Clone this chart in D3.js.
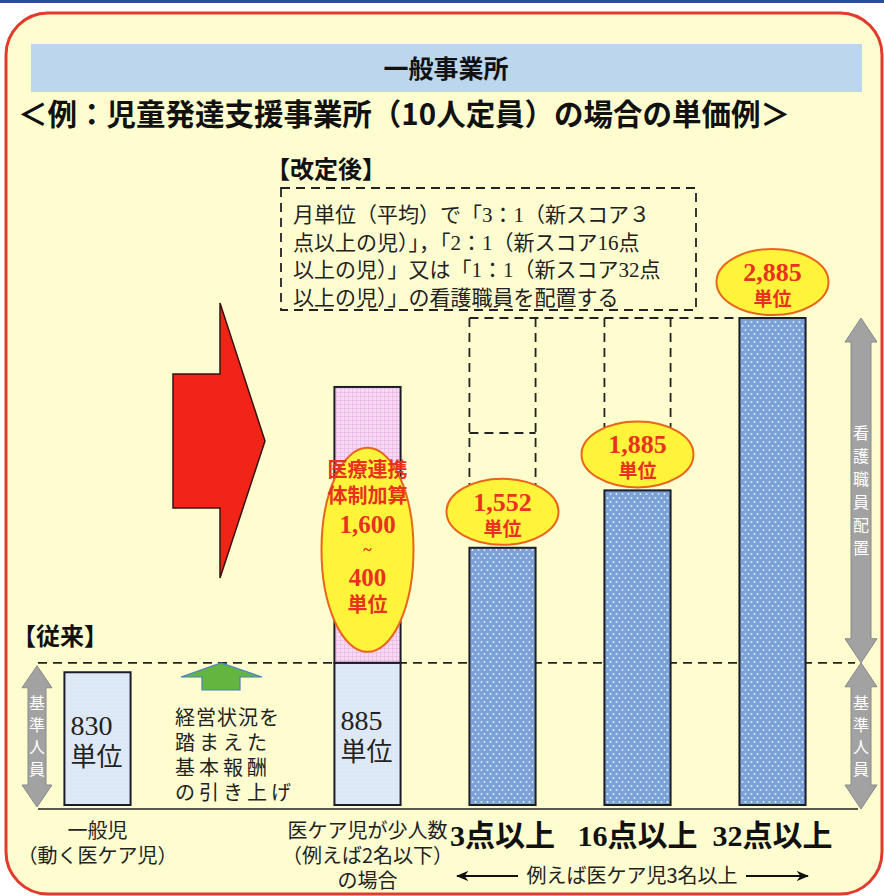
<!DOCTYPE html>
<html lang="ja">
<head>
<meta charset="utf-8">
<script src="https://cdn.jsdelivr.net/npm/d3@7"></script>
<style>
  html, body { margin: 0; padding: 0; background: #ffffff; }
  svg { display: block; font-family: "Noto Sans CJK JP", "Noto Sans", sans-serif; }
</style>
</head>
<body>
<svg id="chart" width="884" height="896"></svg>
<script>
// ---- data ----
const categories = ["一般児", "gap", "少人数", "3点以上", "16点以上", "32点以上"];
const baseUnits = [830, null, 885, 1552, 1885, 2885];
const additionUnits = [null, null, 1600, null, null, null];   // 医療連携体制加算 (upper bound)
const additionMin = 400;
const axisFloor = 60;
const guideLevel = 2218;                                      // inner guide on 3点以上 column
const tickLabels = ["3点以上", "16点以上", "32点以上"];
const bottomLabels = {
  "一般児": ["一般児", "（動く医ケア児）"],
  "少人数": ["医ケア児が少人数", "（例えば2名以下）", "の場合"]
};
const boxLines = [
  "月単位（平均）で「3：1（新スコア３",
  "点以上の児）」，「2：1（新スコア16点",
  "以上の児）」又は「1：1（新スコア32点",
  "以上の児）」の看護職員を配置する"
];
const raiseLines = ["経営状況を", "踏まえた", "基本報酬", "の引き上げ"];

const fmt = d3.format(",");
const svg = d3.select("#chart");
const serif = "'Liberation Serif', 'Noto Sans CJK JP', serif";

// multi-line text block: one <text>, one <tspan> per line
function block(parent, xPos, yFirst, lines, attrs) {
  const t = parent.append("text").attr("x", xPos).attr("y", yFirst);
  Object.entries(attrs || {}).forEach(([k, v]) => t.attr(k, v));
  lines.forEach((l, k) => {
    const s = t.append("tspan").attr("x", xPos).text(l.t);
    s.attr("dy", k === 0 ? 0 : l.dy);
    if (l.size) s.attr("font-size", l.size);
    if (l.family) s.attr("font-family", l.family);
    if (l.ls !== undefined) s.attr("letter-spacing", l.ls);
  });
  return t;
}

// ---- patterns ----
const defs = svg.append("defs");
const dots = defs.append("pattern").attr("id", "dots")
  .attr("patternUnits", "userSpaceOnUse").attr("width", 6).attr("height", 8);
dots.append("rect").attr("width", 6).attr("height", 8).attr("fill", "#7aa2d8");
dots.append("circle").attr("cx", 1.5).attr("cy", 2).attr("r", 0.9).attr("fill", "#e6efff");
dots.append("circle").attr("cx", 4.5).attr("cy", 6).attr("r", 0.9).attr("fill", "#e6efff");
const grid = defs.append("pattern").attr("id", "pinkgrid")
  .attr("patternUnits", "userSpaceOnUse").attr("width", 4).attr("height", 4);
grid.append("rect").attr("width", 4).attr("height", 4).attr("fill", "#f7d9f1");
grid.append("path").attr("d", "M0,0.5H4M0.5,0V4").attr("stroke", "#e8b8e6").attr("stroke-width", 0.7);
const lblue = defs.append("pattern").attr("id", "lightblue")
  .attr("patternUnits", "userSpaceOnUse").attr("width", 4).attr("height", 4);
lblue.append("rect").attr("width", 4).attr("height", 4).attr("fill", "#dde8f6");
lblue.append("circle").attr("cx", 2).attr("cy", 2).attr("r", 0.6).attr("fill", "#eef4fb");

// ---- frame ----
svg.append("rect").attr("x", 0).attr("y", 0).attr("width", 884).attr("height", 3).attr("fill", "#2c4d9c");
svg.append("rect").attr("x", 6).attr("y", 13).attr("width", 876).attr("height", 881)
  .attr("rx", 42).attr("fill", "#fdfdd0").attr("stroke", "#e23a2c").attr("stroke-width", 3);

svg.append("rect").attr("x", 31).attr("y", 44).attr("width", 831).attr("height", 48).attr("fill", "#bcd6ee");
svg.append("text").attr("x", 446).attr("y", 78).attr("text-anchor", "middle")
  .attr("font-size", 25).attr("font-weight", 700).attr("fill", "#111").text("一般事業所");
svg.append("text").attr("x", 18).attr("y", 125)
  .attr("font-size", 30).attr("font-weight", 700).attr("fill", "#111")
  .attr("textLength", 772).attr("lengthAdjust", "spacingAndGlyphs")
  .text("＜例：児童発達支援事業所（10人定員）の場合の単価例＞");

// ---- scales ----
const x = d3.scalePoint().domain(categories).range([30, 840]).padding(0.5);
const barW = x.step() * 0.49;
const y = d3.scaleLinear().domain([axisFloor, 2885]).range([805, 318]);
const baselineY = 809;

const bars = categories.map((c, i) => ({ c, v: baseUnits[i], add: additionUnits[i], i }))
  .filter(d => d.v !== null);

// ---- reference dashed line at the former base level ----
svg.append("line").attr("x1", 38).attr("x2", 855)
  .attr("y1", y(baseUnits[2])).attr("y2", y(baseUnits[2]))
  .attr("stroke", "#222").attr("stroke-width", 1.8).attr("stroke-dasharray", "9,6");

// ---- dashed guides above scored columns ----
const topY = y(baseUnits[5]);
const g = svg.append("g").attr("stroke", "#222").attr("stroke-width", 1.8)
  .attr("stroke-dasharray", "9,6").attr("fill", "none");
g.append("line").attr("x1", x("3点以上") - barW / 2).attr("x2", x("32点以上") - barW / 2)
  .attr("y1", topY).attr("y2", topY);
["3点以上", "16点以上"].forEach(c => {
  const i = categories.indexOf(c);
  [-1, 1].forEach(s => {
    g.append("line").attr("x1", x(c) + s * barW / 2).attr("x2", x(c) + s * barW / 2)
      .attr("y1", topY).attr("y2", y(baseUnits[i]) - 20);
  });
});
g.append("line").attr("x1", x("3点以上") - barW / 2).attr("x2", x("3点以上") + barW / 2)
  .attr("y1", y(guideLevel)).attr("y2", y(guideLevel));

// ---- bars ----
const barG = svg.append("g");
bars.forEach(d => {
  const scored = d.i >= 3;
  barG.append("rect")
    .attr("x", x(d.c) - barW / 2).attr("y", y(d.v))
    .attr("width", barW).attr("height", y(axisFloor) - y(d.v))
    .attr("fill", scored ? "url(#dots)" : "url(#lightblue)")
    .attr("stroke", "#1c1c2a").attr("stroke-width", 2);
  if (d.add) {
    barG.append("rect")
      .attr("x", x(d.c) - barW / 2).attr("y", y(d.v + d.add))
      .attr("width", barW).attr("height", y(d.v) - y(d.v + d.add))
      .attr("fill", "url(#pinkgrid)")
      .attr("stroke", "#1c1c2a").attr("stroke-width", 2);
  }
});

// baseline
svg.append("line").attr("x1", 38).attr("x2", 858).attr("y1", baselineY).attr("y2", baselineY)
  .attr("stroke", "#222").attr("stroke-width", 1.5);

// values inside light bars
[0, 2].forEach(i => {
  const c = categories[i];
  const cy = (y(baseUnits[i]) + y(axisFloor)) / 2;
  block(svg, x(c) - barW / 2 + 6, cy - 4, [
    { t: String(baseUnits[i]), family: serif, size: 28 },
    { t: "単位", dy: 31, size: 26 }
  ], { fill: "#222" });
});

// ---- value ellipses ----
const ellG = svg.append("g");
[3, 4, 5].forEach(i => {
  const c = categories[i];
  const cy = y(baseUnits[i]) - 36;
  ellG.append("ellipse").attr("cx", x(c)).attr("cy", cy).attr("rx", 56).attr("ry", 33)
    .attr("fill", "#fff43a").attr("stroke", "#e8661c").attr("stroke-width", 2);
  block(ellG, x(c), cy - 1, [
    { t: fmt(baseUnits[i]), family: serif, size: 26 },
    { t: "単位", dy: 25, size: 19 }
  ], { "text-anchor": "middle", "font-weight": 700, fill: "#e8321e" });
});
{
  const c = categories[2];
  const cy = (y(baseUnits[2]) + y(baseUnits[2] + additionUnits[2])) / 2 + 25;
  ellG.append("ellipse").attr("cx", x(c)).attr("cy", cy).attr("rx", 46).attr("ry", 102)
    .attr("fill", "#fff43a").attr("stroke", "#e8661c").attr("stroke-width", 2);
  block(ellG, x(c), cy - 73, [
    { t: "医療連携", size: 20 },
    { t: "体制加算", dy: 26, size: 20 },
    { t: fmt(additionUnits[2]), dy: 30, size: 25, family: serif },
    { t: "~", dy: 22, size: 16, family: serif },
    { t: String(additionMin), dy: 31, size: 25, family: serif },
    { t: "単位", dy: 26, size: 20 }
  ], { "text-anchor": "middle", "font-weight": 700, fill: "#e8321e" });
}

// ---- 改定後 box ----
svg.append("text").attr("x", 266).attr("y", 178).attr("font-size", 24).attr("font-weight", 700)
  .attr("fill", "#111").text("【改定後】");
svg.append("rect").attr("x", 281).attr("y", 188).attr("width", 415).attr("height", 122)
  .attr("fill", "none").attr("stroke", "#222").attr("stroke-width", 1.8).attr("stroke-dasharray", "9,6");
block(svg, 293, 222, boxLines.map((t, k) => ({ t, dy: 27.5 })),
  { "font-family": serif, "font-size": 21, fill: "#222" });

// ---- 従来 ----
svg.append("text").attr("x", 12).attr("y", 645).attr("font-size", 24).attr("font-weight", 700)
  .attr("fill", "#111").text("【従来】");

// ---- big red arrow ----
svg.append("path")
  .attr("d", "M173,374H220V303L265,441L220,578V508H173Z")
  .attr("fill", "#f22418").attr("stroke", "#3a1010").attr("stroke-width", 1.5);

// ---- green raise arrow ----
svg.append("path")
  .attr("d", "M181,677L221,663L262,677H240V690H202V677Z")
  .attr("fill", "#62b640").attr("stroke", "#4a7fc0").attr("stroke-width", 1.2);
block(svg, 175, 725, raiseLines.map((t, k) => ({ t, dy: 25, ls: k === 0 ? 1 : 4 })),
  { "font-size": 20, fill: "#222" });

// ---- gray double arrows ----
function dblArrow(cx, y1, y2, stemW, headW, headL, label, step) {
  const s = stemW / 2, h = headW / 2;
  const p = `M${cx},${y1}L${cx + h},${y1 + headL}H${cx + s}V${y2 - headL}H${cx + h}L${cx},${y2}` +
    `L${cx - h},${y2 - headL}H${cx - s}V${y1 + headL}H${cx - h}Z`;
  svg.append("path").attr("d", p).attr("fill", "#a2a2a2").attr("stroke", "#8a8a8a").attr("stroke-width", 1);
  const chars = Array.from(label);
  const mid = (y1 + y2) / 2;
  block(svg, cx, mid - (chars.length - 1) / 2 * step + 6, chars.map(ch => ({ t: ch, dy: step })),
    { "text-anchor": "middle", "font-size": 16, fill: "#ffffff" });
}
dblArrow(37, y(baseUnits[2]) + 3, baselineY - 2, 18, 30, 22, "基準人員", 22);
dblArrow(861, y(baseUnits[5]), y(baseUnits[2]), 20, 32, 24, "看護職員配置", 23);
dblArrow(861, y(baseUnits[2]), baselineY, 20, 32, 24, "基準人員", 22);

// ---- category labels ----
Object.keys(bottomLabels).forEach(c => {
  block(svg, x(c), 838, bottomLabels[c].map(t => ({ t, dy: 25 })),
    { "text-anchor": "middle", "font-size": 20, fill: "#222" });
});
tickLabels.forEach(t => {
  svg.append("text").attr("x", x(t)).attr("y", 846).attr("text-anchor", "middle")
    .attr("font-family", serif).attr("font-weight", 700).attr("font-size", 30)
    .attr("fill", "#111").text(t);
});

// range arrow under scored columns
const ra = svg.append("g");
defs.append("marker").attr("id", "tip").attr("viewBox", "0 0 10 10").attr("refX", 9).attr("refY", 5)
  .attr("markerWidth", 7).attr("markerHeight", 7).attr("orient", "auto-start-reverse")
  .append("path").attr("d", "M0,1L10,5L0,9L3,5Z").attr("fill", "#111");
ra.append("line").attr("x1", 457).attr("x2", 518).attr("y1", 876).attr("y2", 876)
  .attr("stroke", "#111").attr("stroke-width", 1.8).attr("marker-start", "url(#tip)");
ra.append("line").attr("x1", 746).attr("x2", 808).attr("y1", 876).attr("y2", 876)
  .attr("stroke", "#111").attr("stroke-width", 1.8).attr("marker-end", "url(#tip)");
ra.append("text").attr("x", 632).attr("y", 883).attr("text-anchor", "middle")
  .attr("font-size", 20).attr("fill", "#222").text("例えば医ケア児3名以上");
</script>
</body>
</html>
